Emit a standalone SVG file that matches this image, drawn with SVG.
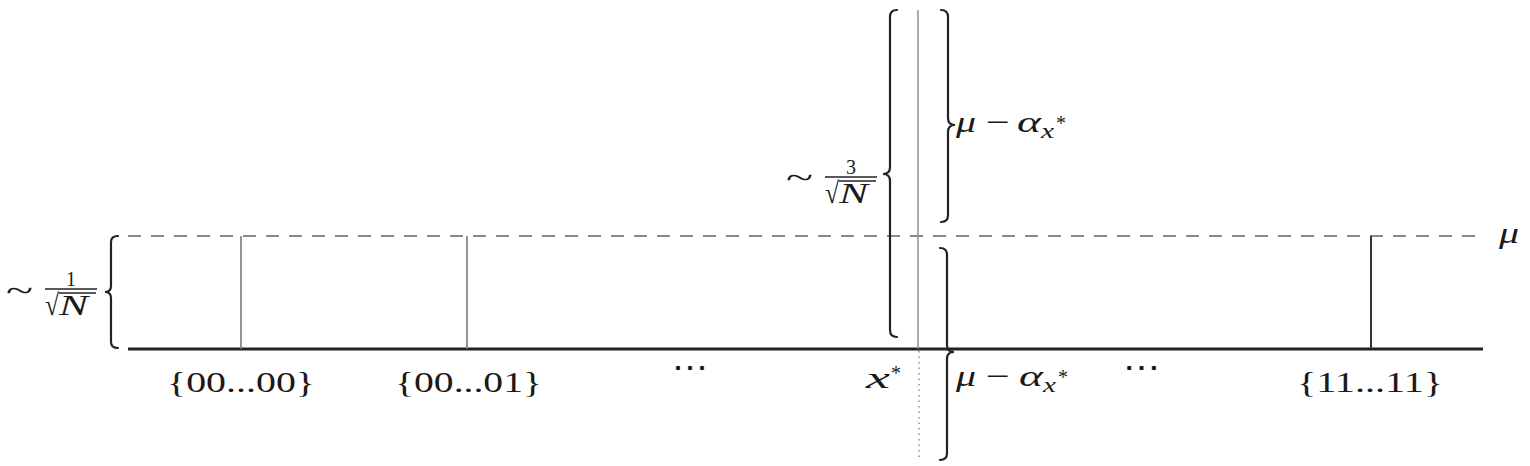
<svg xmlns="http://www.w3.org/2000/svg" width="1530" height="466" viewBox="0 0 1530 466">
<style>
.t{font-family:"Liberation Serif","DejaVu Serif",serif;font-size:30px;fill:#1a1a1a}
.i{font-style:italic}
.s{font-size:20px}
.brace{fill:none;stroke:#222;stroke-width:2.2;stroke-linecap:round}
.bar{stroke:#7a7a7a;stroke-width:1.6}
.fb{stroke:#222;stroke-width:1.6}
</style>
<rect width="1530" height="466" fill="#fff"/>
<g id="axis">
  <line x1="128" y1="236" x2="1476" y2="236" stroke="#8a8a8a" stroke-width="2" stroke-dasharray="13 10"/>
  <line x1="128" y1="349" x2="1483" y2="349" stroke="#222" stroke-width="3"/>
  <text class="t i" x="1499" y="243" textLength="20" lengthAdjust="spacingAndGlyphs">μ</text>
</g>
<g id="bars">
  <line class="bar" x1="241" y1="236" x2="241" y2="349"/>
  <line class="bar" x1="467" y1="236" x2="467" y2="349"/>
  <line x1="1371" y1="236" x2="1371" y2="349" stroke="#333" stroke-width="2"/>
  <line x1="918" y1="10" x2="918" y2="349" stroke="#888" stroke-width="1.4"/>
  <line x1="919" y1="351" x2="919" y2="457" stroke="#888" stroke-width="1.4" stroke-dasharray="1.5 4"/>
</g>
<g id="braces">
  <path class="brace" d="M118,236 Q111,236 111,242 L111,286 Q111,292 105,292 Q111,292 111,298 L111,342 Q111,348 118,348"/>
  <path class="brace" d="M897,10 Q890,10 890,17 L890,167 Q890,174 883,174 Q890,174 890,181 L890,330 Q890,337 897,337"/>
  <path class="brace" d="M941,10 Q948,10 948,17 L948,118 Q948,125 955,125 Q948,125 948,132 L948,215 Q948,222 941,222"/>
  <path class="brace" d="M940,248 Q947,248 947,255 L947,345 Q947,352 954,352 Q947,352 947,359 L947,453 Q947,460 940,460"/>
</g>
<g id="labels">
  <text class="t" x="167" y="392" textLength="148" lengthAdjust="spacingAndGlyphs">{00...00}</text>
  <text class="t" x="395" y="392" textLength="147" lengthAdjust="spacingAndGlyphs">{00...01}</text>
  <text class="t" x="1297" y="392" textLength="146" lengthAdjust="spacingAndGlyphs">{11...11}</text>
  <text class="t" x="672" y="377" textLength="36" lengthAdjust="spacingAndGlyphs" font-family="DejaVu Serif">⋯</text>
  <text class="t" x="1123" y="377" textLength="37" lengthAdjust="spacingAndGlyphs" font-family="DejaVu Serif">⋯</text>
  <text class="t i" x="866" y="388" textLength="24" lengthAdjust="spacingAndGlyphs">x</text>
  <text class="t s" x="891" y="380">*</text>
</g>
<g id="label-upper">
  <text class="t i" x="956" y="132" textLength="20" lengthAdjust="spacingAndGlyphs">μ</text>
  <text class="t" x="986" y="132" textLength="24" lengthAdjust="spacingAndGlyphs">−</text>
  <text class="t i" x="1017" y="132" textLength="24" lengthAdjust="spacingAndGlyphs">α</text>
  <text class="t i s" x="1041" y="138" textLength="13" lengthAdjust="spacingAndGlyphs">x</text>
  <text class="t s" x="1056" y="130">*</text>
</g>
<g id="label-lower">
  <text class="t i" x="956" y="386" textLength="20" lengthAdjust="spacingAndGlyphs">μ</text>
  <text class="t" x="986" y="386" textLength="24" lengthAdjust="spacingAndGlyphs">−</text>
  <text class="t i" x="1019" y="386" textLength="24" lengthAdjust="spacingAndGlyphs">α</text>
  <text class="t i s" x="1043" y="392" textLength="13" lengthAdjust="spacingAndGlyphs">x</text>
  <text class="t s" x="1058" y="384">*</text>
</g>
<g id="frac-left">
  <text class="t" x="6" y="301" font-size="34" textLength="27" lengthAdjust="spacingAndGlyphs">~</text>
  <text class="t s" x="71" y="286" text-anchor="middle">1</text>
  <line class="fb" x1="45" y1="289" x2="97" y2="289"/>
  <line class="fb" x1="59" y1="293" x2="96" y2="293"/>
  <text class="t" x="45" y="315" font-size="24" textLength="14" lengthAdjust="spacingAndGlyphs">√</text>
  <text class="t i" x="59" y="315" font-size="22" textLength="29" lengthAdjust="spacingAndGlyphs">N</text>
</g>
<g id="frac-mid">
  <text class="t" x="786" y="188" font-size="34" textLength="27" lengthAdjust="spacingAndGlyphs">~</text>
  <text class="t s" x="851" y="174" text-anchor="middle">3</text>
  <line class="fb" x1="825" y1="177" x2="877" y2="177"/>
  <line class="fb" x1="839" y1="181" x2="876" y2="181"/>
  <text class="t" x="825" y="203" font-size="24" textLength="14" lengthAdjust="spacingAndGlyphs">√</text>
  <text class="t i" x="839" y="203" font-size="22" textLength="29" lengthAdjust="spacingAndGlyphs">N</text>
</g>
</svg>
